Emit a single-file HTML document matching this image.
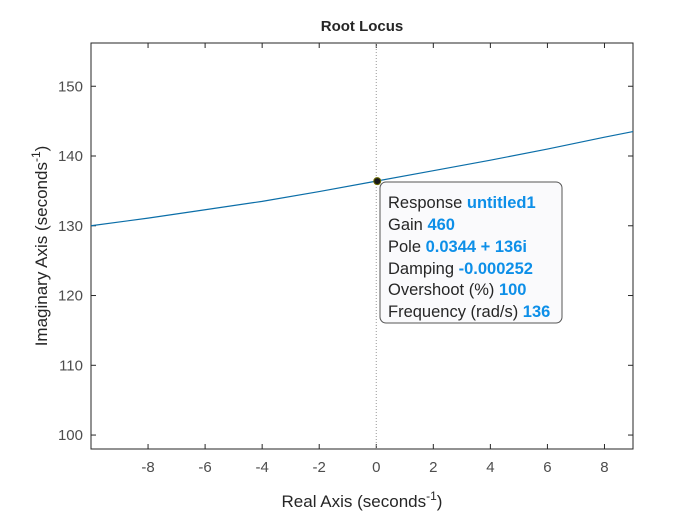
<!DOCTYPE html>
<html><head><meta charset="utf-8"><style>
body{margin:0;background:#fff;}
svg{display:block;font-family:"Liberation Sans",sans-serif;}
</style></head><body>
<svg id="chart" width="700" height="525">
<rect x="0" y="0" width="700" height="525" fill="#fff"/>
<rect x="91" y="43" width="542" height="406" fill="#fff" stroke="#262626" stroke-width="1"/>
<g id="xticks"></g><g id="yticks"></g>
<g id="series"></g>
<text x="362" y="31" text-anchor="middle" font-size="15" font-weight="bold" fill="#262626">Root Locus</text>
<text x="362" y="507" text-anchor="middle" font-size="17" fill="#262626">Real Axis (seconds<tspan dy="-7" font-size="12">-1</tspan><tspan dy="7">)</tspan></text>
<text transform="translate(47,246) rotate(-90)" text-anchor="middle" font-size="17" fill="#262626">Imaginary Axis (seconds<tspan dy="-7" font-size="12">-1</tspan><tspan dy="7">)</tspan></text>
<g id="tip">
<rect x="380" y="182" width="182" height="141" rx="6" fill="#fafafc" stroke="#555" stroke-width="1"/>
<g font-size="16.5" fill="#262626">
<text x="388" y="208">Response <tspan fill="#0d8fe8" font-weight="bold">untitled1</tspan></text>
<text x="388" y="230">Gain <tspan fill="#0d8fe8" font-weight="bold">460</tspan></text>
<text x="388" y="252">Pole <tspan fill="#0d8fe8" font-weight="bold">0.0344 + 136i</tspan></text>
<text x="388" y="274">Damping <tspan fill="#0d8fe8" font-weight="bold">-0.000252</tspan></text>
<text x="388" y="295">Overshoot (%) <tspan fill="#0d8fe8" font-weight="bold">100</tspan></text>
<text x="388" y="317">Frequency (rad/s) <tspan fill="#0d8fe8" font-weight="bold">136</tspan></text>
</g></g>
</svg>
<script>
const xTicks=[-8,-6,-4,-2,0,2,4,6,8];
const yTicks=[100,110,120,130,140,150];
const locusRe=[-10,-8,-6,-4,-2,0,2,4,6,8,9];
const locusIm=[130.0,131.1,132.3,133.5,134.9,136.4,137.9,139.4,141.0,142.7,143.5];
const markerRe=[0.0344];
const markerIm=[136.4];
const L=91,R=633,T=43,B=449,xMin=-10,xMax=9,yMin=98,yMax=156.2;
const sx=v=>L+(v-xMin)/(xMax-xMin)*(R-L);
const sy=v=>B-(v-yMin)/(yMax-yMin)*(B-T);
const NS="http://www.w3.org/2000/svg";
function mk(t,a,p){const e=document.createElementNS(NS,t);for(const k in a)e.setAttribute(k,a[k]);p.appendChild(e);return e;}
const xt=document.getElementById('xticks'),yt=document.getElementById('yticks'),se=document.getElementById('series');
xTicks.forEach(v=>{const x=sx(v);
 mk('line',{x1:x,x2:x,y1:B,y2:B-5,stroke:'#262626'},xt);
 mk('line',{x1:x,x2:x,y1:T,y2:T+5,stroke:'#262626'},xt);
 const t=mk('text',{x:x,y:B+23,'text-anchor':'middle','font-size':15,fill:'#4d4d4d'},xt);t.textContent=v;
 
 });
yTicks.forEach(v=>{const y=sy(v);
 mk('line',{x1:L,x2:L+5,y1:y,y2:y,stroke:'#262626'},yt);
 mk('line',{x1:R,x2:R-5,y1:y,y2:y,stroke:'#262626'},yt);
 const t=mk('text',{x:L-8,y:y+5,'text-anchor':'end','font-size':15,fill:'#4d4d4d'},yt);t.textContent=v;
 
 });
const vl=mk('line',{x1:sx(0),x2:sx(0),y1:T,y2:B,stroke:'#999','stroke-dasharray':'1,2'},se);


const pl=mk('polyline',{points:locusRe.map((r,i)=>sx(r)+','+sy(locusIm[i])).join(' '),fill:'none',stroke:'#0b6ea8','stroke-width':1.2},se);


markerRe.forEach((r,i)=>{const c=mk('circle',{cx:sx(r),cy:sy(markerIm[i]),r:3.5,fill:'#1a1a1a',stroke:'#6b6b00'},se);
 
 });
</script>
</body></html>
